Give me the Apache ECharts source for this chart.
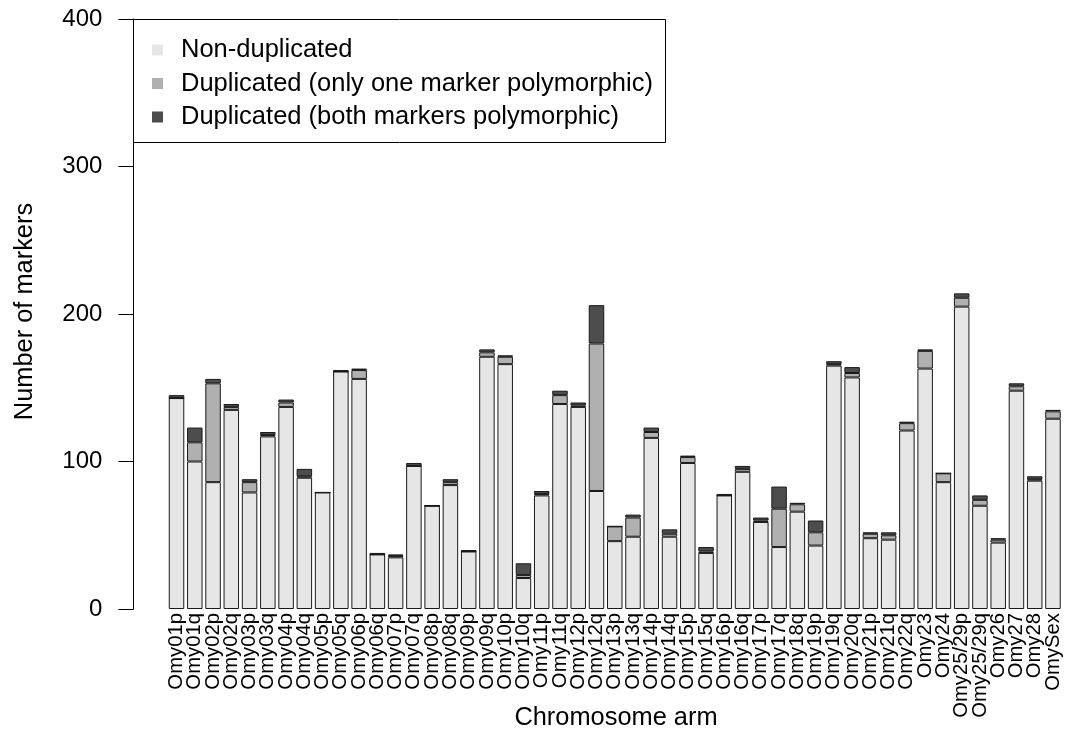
<!DOCTYPE html>
<html>
<head>
<meta charset="utf-8">
<script src="https://cdn.jsdelivr.net/npm/echarts@6/dist/echarts.min.js"></script>
<style>
html,body{margin:0;padding:0;background:#fff;}
#chart{width:1065px;height:734px;}
</style>
</head>
<body>
<div id="chart"></div>
<script>
var categories = ['Omy01p','Omy01q','Omy02p','Omy02q','Omy03p','Omy03q','Omy04p','Omy04q','Omy05p','Omy05q','Omy06p','Omy06q','Omy07p','Omy07q','Omy08p','Omy08q','Omy09p','Omy09q','Omy10p','Omy10q','Omy11p','Omy11q','Omy12p','Omy12q','Omy13p','Omy13q','Omy14p','Omy14q','Omy15p','Omy15q','Omy16p','Omy16q','Omy17p','Omy17q','Omy18q','Omy19p','Omy19q','Omy20q','Omy21p','Omy21q','Omy22q','Omy23','Omy24','Omy25/29p','Omy25/29q','Omy26','Omy27','Omy28','OmySex'];
var nonDuplicated = [143,100,86,135,79,117,137,89,79,161,156,37,35,97,70,84,39,171,166,21,77,139,137,80,46,49,116,49,99,38,77,93,59,42,66,43,165,157,48,47,121,163,86,205,70,45,148,87,129];
var dupOneMarker = [0,13,67,2,7,1,3,1,0,0,6,0,1,0,0,2,0,3,5,2,1,6,1,100,10,13,4,2,4,1,0,2,1,26,5,9,1,3,3,3,5,12,6,6,4,2,3,1,5];
var dupBothMarkers = [2,10,3,2,2,2,2,5,0,1,1,1,1,2,0,2,1,2,1,8,2,3,2,26,0,2,3,3,1,3,1,2,2,15,1,8,2,4,1,2,1,1,0,3,3,1,2,2,1];
var yTicks = [0,100,200,300,400];
var seriesNames = ['Non-duplicated','Duplicated (only one marker polymorphic)','Duplicated (both markers polymorphic)'];
var seriesColors = ['#e6e6e6','#b0b0b0','#4d4d4d'];

var FONT = '"Liberation Sans", Arial, Helvetica, sans-serif';
var chart = echarts.init(document.getElementById('chart'), null, {renderer:'canvas'});
var dataSets = [nonDuplicated, dupOneMarker, dupBothMarkers];
var series = dataSets.map(function(d, k){
  return {
    name: seriesNames[k], type: 'bar', stack: 'total', data: d,
    barWidth: 15.5,
    itemStyle: {color: seriesColors[k], borderColor: '#1a1a1a', borderWidth: 1},
    emphasis: {disabled: true},
    animation: false
  };
});
chart.setOption({
  animation: false,
  backgroundColor: '#ffffff',
  grid: {left: 167.4, right: 2.9, top: 19, bottom: 125, containLabel: false},
  xAxis: {
    type: 'category', data: categories,
    axisLine: {show: false}, axisTick: {show: false},
    axisLabel: {rotate: 90, interval: 0, margin: 4, fontSize: 20.3, color: '#000', fontFamily: FONT}
  },
  yAxis: {
    type: 'value', min: 0, max: 400, interval: 100, offset: 34,
    axisLine: {show: true, lineStyle: {color: '#000', width: 1}},
    axisTick: {show: true, length: 15, lineStyle: {color: '#000'}},
    splitLine: {show: false},
    axisLabel: {margin: 31, fontSize: 24, color: '#000', fontFamily: FONT,
      formatter: function(v){ return yTicks.indexOf(v) >= 0 ? String(v) : ''; }}
  },
  legend: {
    orient: 'vertical', left: 152, top: 37, padding: 0,
    itemWidth: 11, itemHeight: 11, itemGap: 7.5, icon: 'rect',
    textStyle: {fontSize: 25.5, lineHeight: 25, color: '#000', fontFamily: FONT, padding: [0,0,0,13]},
    data: seriesNames.map(function(n, k){ return {name: n, itemStyle: {color: seriesColors[k], borderWidth: 0}}; })
  },
  graphic: [
    {type: 'rect', z: -1, shape: {x: 133.5, y: 19.5, width: 532, height: 123}, style: {fill: '#fff', stroke: '#000', lineWidth: 1}},
    {type: 'text', x: 25, y: 311.5, rotation: Math.PI/2, style: {text: 'Number of markers', font: '25.4px ' + FONT, fill: '#000', textAlign: 'center', textVerticalAlign: 'middle'}},
    {type: 'text', x: 616, y: 718, style: {text: 'Chromosome arm', font: '25.4px ' + FONT, fill: '#000', textAlign: 'center', textVerticalAlign: 'middle'}}
  ],
  series: series
});
</script>
</body>
</html>
